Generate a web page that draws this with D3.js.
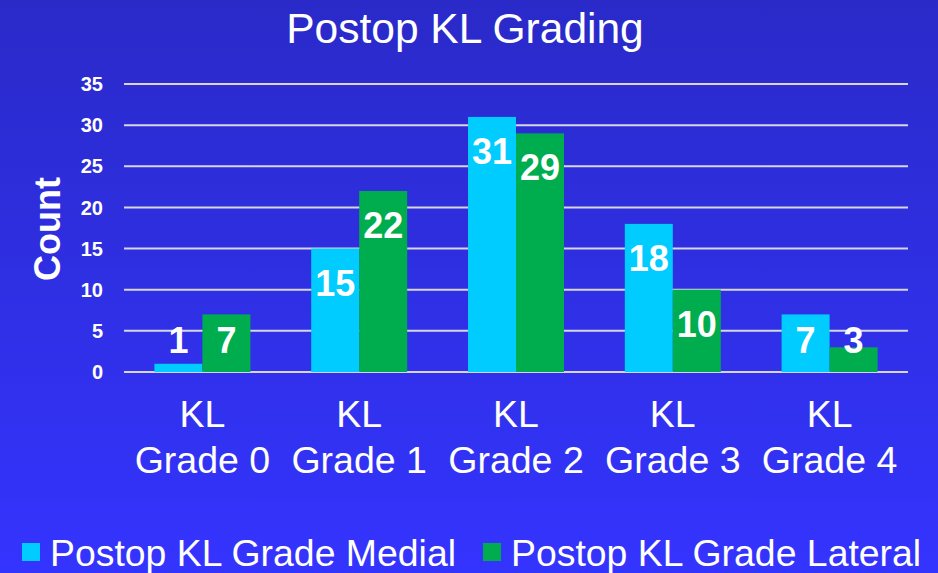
<!DOCTYPE html>
<html>
<head>
<meta charset="utf-8">
<script src="https://cdnjs.cloudflare.com/ajax/libs/d3/7.8.5/d3.min.js"></script>
<style>
  body { margin: 0; padding: 0; }
  svg { display: block; font-family: "Liberation Sans", Arial, sans-serif; }
</style>
</head>
<body>
<div id="chart"></div>
<script>
// data
var categories = ["Grade 0", "Grade 1", "Grade 2", "Grade 3", "Grade 4"];
var seriesNames = ["Postop KL Grade Medial", "Postop KL Grade Lateral"];
var medial = [1, 15, 31, 18, 7];
var lateral = [7, 22, 29, 10, 3];
var yTicks = [0, 5, 10, 15, 20, 25, 30, 35];
var colors = ["#00CCFF", "#00AD4E"];

var width = 938, height = 573;
var plot = {left: 124, right: 908, top: 84, bottom: 372};

var svg = d3.select("#chart").append("svg")
    .attr("width", width)
    .attr("height", height);

// background gradient
var grad = svg.append("defs").append("linearGradient")
    .attr("id", "bg")
    .attr("x1", 0).attr("y1", 0).attr("x2", 0).attr("y2", 1);
grad.append("stop").attr("offset", "0%").attr("stop-color", "#2A2AC9");
grad.append("stop").attr("offset", "100%").attr("stop-color", "#3434FF");
svg.append("rect").attr("width", width).attr("height", height).attr("fill", "url(#bg)");

var x0 = d3.scaleBand()
    .domain(categories)
    .range([plot.left, plot.right])
    .paddingInner(0).paddingOuter(0);

var groupW = 96;
var x1 = d3.scaleBand()
    .domain(seriesNames)
    .range([0, groupW]);

var y = d3.scaleLinear()
    .domain([0, 35])
    .range([plot.bottom, plot.top]);

// gridlines
svg.append("g").selectAll("line")
    .data(yTicks)
    .enter().append("line")
    .attr("x1", plot.left).attr("x2", plot.right)
    .attr("y1", d => y(d)).attr("y2", d => y(d))
    .attr("stroke", "#D6D6E6")
    .attr("stroke-width", 2);

// y tick labels
svg.append("g").selectAll("text")
    .data(yTicks)
    .enter().append("text")
    .attr("x", 103)
    .attr("y", d => y(d))
    .attr("dy", "0.36em")
    .attr("text-anchor", "end")
    .attr("fill", "white")
    .attr("font-weight", "bold")
    .attr("font-size", "20px")
    .text(d => d);

// y axis title
svg.append("text")
    .attr("transform", "translate(60,229) rotate(-90)")
    .attr("text-anchor", "middle")
    .attr("fill", "white")
    .attr("font-weight", "bold")
    .attr("font-size", "36px")
    .text("Count");

// title
svg.append("text")
    .attr("x", 465).attr("y", 43)
    .attr("text-anchor", "middle")
    .attr("fill", "white")
    .attr("font-size", "42.5px")
    .text("Postop KL Grading");

var rows = categories.map(function(c, i) {
    return {cat: c, vals: [{s: seriesNames[0], v: medial[i]}, {s: seriesNames[1], v: lateral[i]}]};
});

var groups = svg.append("g").selectAll("g")
    .data(rows)
    .enter().append("g")
    .attr("transform", d => "translate(" + (x0(d.cat) + (x0.bandwidth() - groupW) / 2) + ",0)");

groups.selectAll("rect")
    .data(d => d.vals)
    .enter().append("rect")
    .attr("x", d => x1(d.s))
    .attr("y", d => y(d.v))
    .attr("width", x1.bandwidth())
    .attr("height", d => y(0) - y(d.v))
    .attr("fill", (d, i) => colors[i]);

groups.selectAll("text")
    .data(d => d.vals)
    .enter().append("text")
    .attr("x", d => x1(d.s) + x1.bandwidth() / 2)
    .attr("y", d => Math.min(y(d.v) + 34, 340))
    .attr("dy", "0.36em")
    .attr("text-anchor", "middle")
    .attr("fill", "white")
    .attr("font-weight", "bold")
    .attr("font-size", "36px")
    .text(d => d.v);

// category labels
var catLabels = svg.append("g").selectAll("text")
    .data(categories)
    .enter().append("text")
    .attr("text-anchor", "middle")
    .attr("fill", "white")
    .attr("font-size", "37.5px");
catLabels.append("tspan")
    .attr("x", d => x0(d) + x0.bandwidth() / 2)
    .attr("y", 427)
    .text("KL");
catLabels.append("tspan")
    .attr("x", d => x0(d) + x0.bandwidth() / 2)
    .attr("y", 473)
    .text(d => d);

// legend
var legendX = [22, 483];
var legend = svg.append("g").selectAll("g")
    .data(seriesNames)
    .enter().append("g")
    .attr("transform", (d, i) => "translate(" + legendX[i] + ",0)");
legend.append("rect")
    .attr("x", 0).attr("y", 543)
    .attr("width", 18).attr("height", 18)
    .attr("fill", (d, i) => colors[i]);
legend.append("text")
    .attr("x", 28).attr("y", 566)
    .attr("fill", "white")
    .attr("font-size", "37.4px")
    .text(d => d);
</script>
</body>
</html>
